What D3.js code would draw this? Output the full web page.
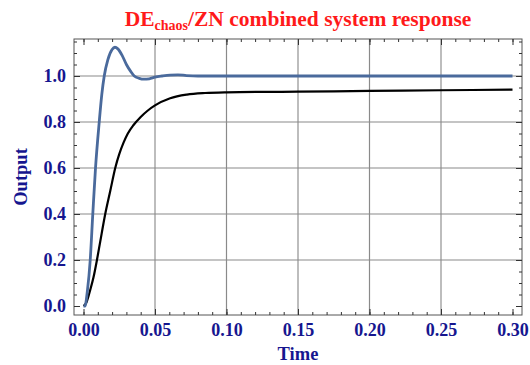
<!DOCTYPE html>
<html>
<head>
<meta charset="utf-8">
<script src="https://cdn.jsdelivr.net/npm/d3@7"></script>
<style>
  body { margin: 0; background: #fff; }
  svg { display: block; }
  .tick text { font-family: "Liberation Serif", "Times New Roman", serif; font-weight: bold; fill: #16168f; }
</style>
</head>
<body>
<svg id="chart" width="530" height="365"></svg>
<script>
// blue: DE_chaos tuned response
const blueTime = [0, 0.001, 0.0028, 0.0047, 0.0065, 0.0084, 0.011, 0.0128, 0.0145, 0.017, 0.020, 0.022, 0.024, 0.027, 0.030, 0.033, 0.0355, 0.039, 0.042, 0.046, 0.050, 0.055, 0.0606, 0.066, 0.072, 0.080, 0.10, 0.15, 0.20, 0.25, 0.30];
const blueValue = [0, 0, 0.07, 0.2, 0.4, 0.6, 0.8, 0.92, 1.0, 1.07, 1.115, 1.125, 1.118, 1.09, 1.05, 1.02, 1.0, 0.99, 0.986, 0.988, 0.995, 1.0, 1.004, 1.005, 1.002, 1.0, 1.0, 1.0, 1.0, 1.0, 1.0];

// black: ZN tuned response
const blackTime = [0, 0.002, 0.0047, 0.007, 0.0094, 0.0117, 0.0152, 0.0187, 0.0222, 0.025, 0.028, 0.031, 0.035, 0.040, 0.045, 0.050, 0.0606, 0.0723, 0.085, 0.10, 0.15, 0.20, 0.25, 0.30];
const blackValue = [0, 0.015, 0.07, 0.125, 0.2, 0.28, 0.4, 0.5, 0.6, 0.66, 0.71, 0.75, 0.787, 0.822, 0.85, 0.872, 0.903, 0.919, 0.926, 0.929, 0.932, 0.935, 0.938, 0.9405];

const xTicks = [0, 0.05, 0.10, 0.15, 0.20, 0.25, 0.30];
const yTicks = [0, 0.2, 0.4, 0.6, 0.8, 1.0];
const xGrid = [0.05, 0.10, 0.15, 0.20, 0.25];
const yGrid = [0.2, 0.4, 0.6, 0.8, 1.0];

const svg = d3.select("#chart");
const frame = { left: 74, right: 522, top: 39, bottom: 315 };

const x = d3.scaleLinear().domain([0, 0.3]).range([83.5, 512.5]);
const y = d3.scaleLinear().domain([0, 1]).range([306, 76]);

const xMinor = d3.range(0, 0.3001, 0.01).map(d => +d.toFixed(2));
const yMinor = d3.range(0, 1.1501, 0.05).map(d => +d.toFixed(2));

// grid lines
svg.append("g").selectAll("line")
  .data(xGrid)
  .join("line")
  .attr("x1", d => x(d)).attr("x2", d => x(d))
  .attr("y1", frame.top).attr("y2", frame.bottom)
  .attr("stroke", (d, i) => i % 2 === 0 ? "#bdbdbd" : "#8a8a8a")
  .attr("stroke-width", (d, i) => i % 2 === 0 ? 2 : 1.2);

svg.append("g").selectAll("line")
  .data(yGrid)
  .join("line")
  .attr("x1", frame.left).attr("x2", frame.right)
  .attr("y1", d => y(d)).attr("y2", d => y(d))
  .attr("stroke", "#8a8a8a")
  .attr("stroke-width", 1.2);

// curves
const line = d3.line()
  .x(d => x(d[0]))
  .y(d => y(d[1]))
  .curve(d3.curveMonotoneX);

svg.append("path")
  .datum(d3.zip(blackTime, blackValue))
  .attr("fill", "none")
  .attr("stroke", "#000")
  .attr("stroke-width", 2.2)
  .attr("d", line);

svg.append("path")
  .datum(d3.zip(blueTime, blueValue))
  .attr("fill", "none")
  .attr("stroke", "#4a6a9c")
  .attr("stroke-width", 2.8)
  .attr("d", line);

// frame
svg.append("rect")
  .attr("x", frame.left).attr("y", frame.top)
  .attr("width", frame.right - frame.left)
  .attr("height", frame.bottom - frame.top)
  .attr("fill", "none")
  .attr("stroke", "#555")
  .attr("stroke-width", 1);

// axes (inward ticks on all sides)
function styleAxis(g) {
  g.select(".domain").remove();
  g.selectAll(".tick line").attr("stroke", "#333");
}

const fmt2 = d3.format(".2f");
const fmt1 = d3.format(".1f");

svg.append("g")
  .attr("transform", `translate(0,${frame.bottom})`)
  .call(d3.axisBottom(x).tickValues(xMinor).tickSize(-3).tickFormat(""))
  .call(styleAxis);
svg.append("g")
  .attr("transform", `translate(0,${frame.bottom})`)
  .call(d3.axisBottom(x).tickValues(xTicks).tickSize(-6).tickPadding(8).tickFormat(fmt2))
  .call(styleAxis)
  .selectAll("text").attr("font-size", 18).attr("dy", "0.71em");

svg.append("g")
  .attr("transform", `translate(0,${frame.top})`)
  .call(d3.axisTop(x).tickValues(xMinor).tickSize(-3).tickFormat(""))
  .call(styleAxis);
svg.append("g")
  .attr("transform", `translate(0,${frame.top})`)
  .call(d3.axisTop(x).tickValues(xTicks).tickSize(-6).tickFormat(""))
  .call(styleAxis);

svg.append("g")
  .attr("transform", `translate(${frame.left},0)`)
  .call(d3.axisLeft(y).tickValues(yMinor).tickSize(-3).tickFormat(""))
  .call(styleAxis);
svg.append("g")
  .attr("transform", `translate(${frame.left},0)`)
  .call(d3.axisLeft(y).tickValues(yTicks).tickSize(-6).tickPadding(8).tickFormat(fmt1))
  .call(styleAxis)
  .selectAll("text").attr("font-size", 18);

svg.append("g")
  .attr("transform", `translate(${frame.right},0)`)
  .call(d3.axisRight(y).tickValues(yMinor).tickSize(-3).tickFormat(""))
  .call(styleAxis);
svg.append("g")
  .attr("transform", `translate(${frame.right},0)`)
  .call(d3.axisRight(y).tickValues(yTicks).tickSize(-6).tickFormat(""))
  .call(styleAxis);

// labels
const serif = "'Liberation Serif', 'Times New Roman', serif";

svg.append("text")
  .attr("x", (frame.left + frame.right) / 2)
  .attr("y", 360)
  .attr("text-anchor", "middle")
  .attr("font-family", serif).attr("font-weight", "bold")
  .attr("font-size", 18.5).attr("fill", "#16168f")
  .text("Time");

svg.append("text")
  .attr("transform", `translate(27,177) rotate(-90)`)
  .attr("text-anchor", "middle")
  .attr("font-family", serif).attr("font-weight", "bold")
  .attr("font-size", 18.5).attr("fill", "#16168f")
  .text("Output");

const title = svg.append("text")
  .attr("x", (frame.left + frame.right) / 2)
  .attr("y", 26)
  .attr("text-anchor", "middle")
  .attr("font-family", serif).attr("font-weight", "bold")
  .attr("font-size", 21.5).attr("fill", "#ff1a1a");
title.append("tspan").text("DE");
title.append("tspan").attr("font-size", 14).attr("dy", 4).text("chaos");
title.append("tspan").attr("dy", -4).text("/ZN combined system response");
</script>
</body>
</html>
